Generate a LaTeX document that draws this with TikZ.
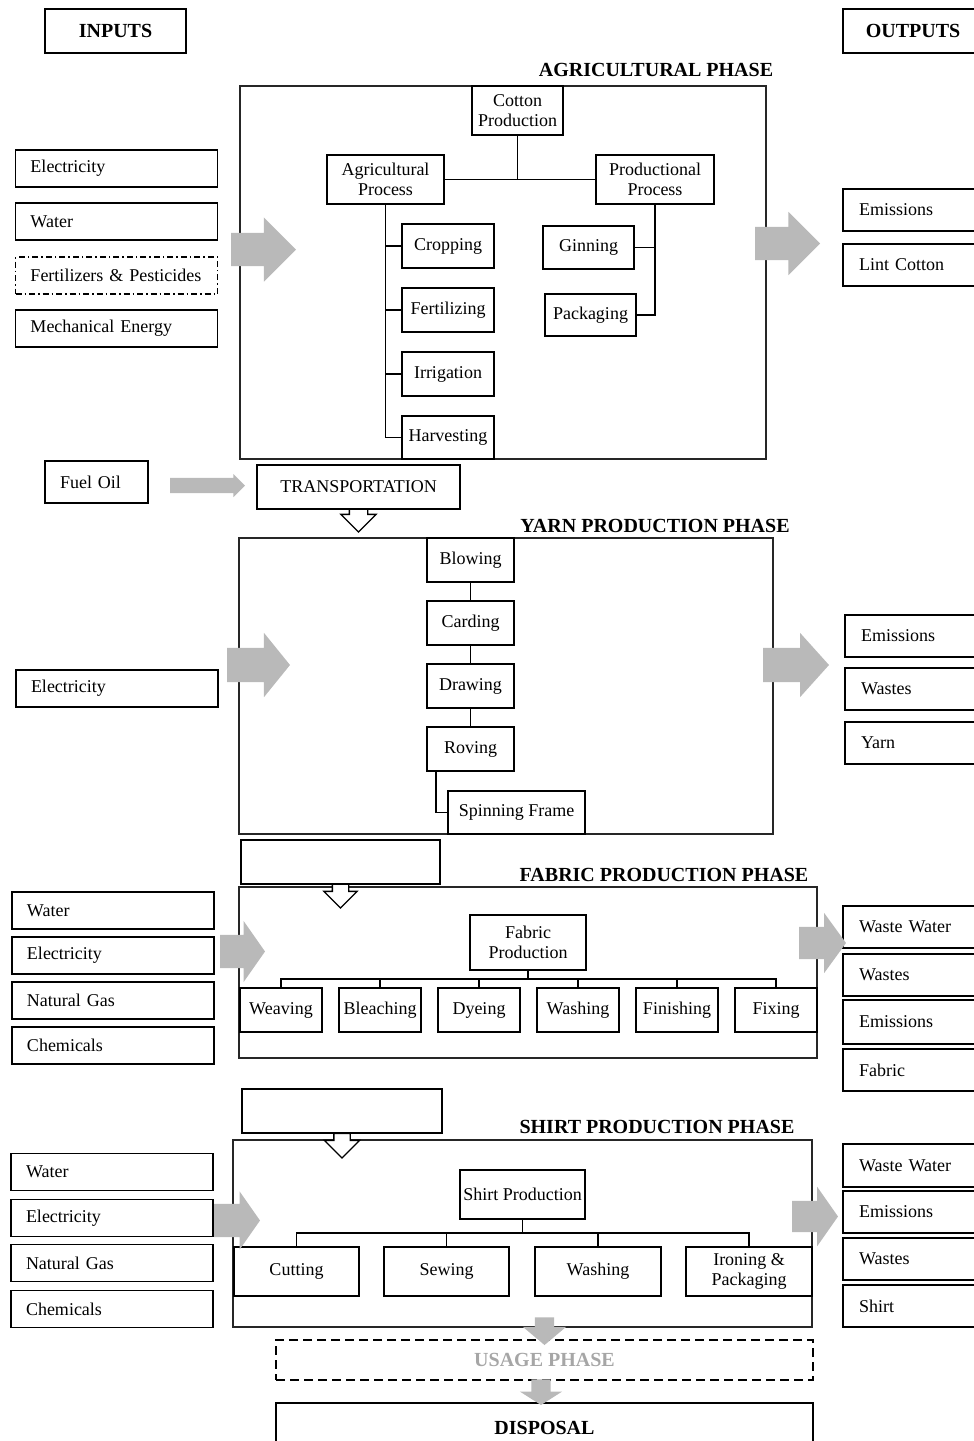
\documentclass[tikz,border=0pt]{standalone}
\usepackage{fontspec}
\setmainfont{Liberation Serif}
\usetikzlibrary{positioning, shapes.arrows}

\begin{document}
\begin{tikzpicture}[x=1pt, y=-1pt,
        every node/.style={font=\fontsize{18}{20}\selectfont, inner sep=0pt, outer sep=0pt},
        head/.style={draw, line width=2.2pt, font=\bfseries\fontsize{20}{22}\selectfont, minimum height=44pt},
        title/.style={font=\bfseries\fontsize{20}{22}\selectfont},
        phase/.style={draw=black!85, line width=1.3pt},
        stepbox/.style={draw, line width=1.6pt, align=center},
        inbox/.style={draw, line width=1.5pt, text width=172pt, inner xsep=15pt, minimum height=37pt, align=left},
        outbox/.style={draw, line width=1.5pt, text width=130pt, inner xsep=16pt, minimum height=42pt, align=left},
        fatarrow/.style={single arrow, fill=gray!55, anchor=tail, inner xsep=0pt},
        hollow/.style={single arrow, draw, line width=1.3pt, fill=white, anchor=tip, shape border rotate=270},
        link/.style={line width=1.6pt}
    ]
    \useasboundingbox (0,0) rectangle (974,1441);
    \clip (0,0) rectangle (974,1441);

    \node[head, minimum width=141pt] (inputs) at (115.5,31) {INPUTS};
    \node[head, minimum width=140pt] (outputs) at (913,31) {OUTPUTS};

    % agricultural phase
    \node[title] (agrititle) at (656,70) {AGRICULTURAL PHASE};
    \node[phase, minimum width=526pt, minimum height=373pt] (agri) at (503,272.5) {};
    \node[stepbox, minimum width=91pt, minimum height=49pt] (cotton) at (517.5,110.5) {Cotton\\Production};
    \node[stepbox, minimum width=117pt, minimum height=49pt] (agriproc) at (385.5,179.5) {Agricultural\\Process};
    \node[stepbox, minimum width=118pt, minimum height=49pt] (prodproc) at (655,179.5) {Productional\\Process};
    \node[stepbox, minimum width=92pt, minimum height=44pt] (crop) at (448,246) {Cropping};
    \node[stepbox, minimum width=92pt, minimum height=44pt, below=20pt of crop] (fert) {Fertilizing};
    \node[stepbox, minimum width=92pt, minimum height=44pt, below=20pt of fert] (irr) {Irrigation};
    \node[stepbox, minimum width=92pt, minimum height=43pt, below=20pt of irr] (harv) {Harvesting};
    \node[stepbox, minimum width=91pt, minimum height=43pt] (gin) at (588.5,247.5) {Ginning};
    \node[stepbox, minimum width=91pt, minimum height=42pt] (pack) at (590.5,315) {Packaging};

    \draw[link] (agriproc) -- (prodproc);
    \draw[link] (cotton) -- (cotton |- agriproc);
    \foreach \s in {crop,fert,irr,harv}
        \draw[link] (agriproc) |- (\s.west);
    \draw[link] (prodproc) |- (gin.east);
    \draw[link] (prodproc) |- (pack.east);

    \node[inbox] (elec1) at (116.5,168.5) {Electricity};
    \node[inbox, below=16pt of elec1] (water1) {Water};
    \node[inbox, below=17pt of water1, dash pattern=on 6pt off 3pt on 1.5pt off 3pt] (chem1) {Fertilizers \& Pesticides};
    \node[inbox, below=16pt of chem1] (mech1) {Mechanical Energy};
    \node[outbox, anchor=west] (emis1) at (843,210) {Emissions};
    \node[outbox, anchor=west, below=13pt of emis1] (lint) {Lint Cotton};

    \node[fatarrow, minimum height=65pt, inner ysep=16.5pt, single arrow head extend=15.5pt] (agriin) at (231,249.5) {};
    \node[fatarrow, minimum height=65pt, inner ysep=16.5pt, single arrow head extend=15pt] (agriout) at (755,243.5) {};

    \node[stepbox, minimum width=103pt, minimum height=42pt, text width=73pt, inner xsep=15pt, align=left] (fuel) at (96.5,482) {Fuel Oil};
    \node[fatarrow, minimum height=75pt, inner ysep=7.5pt, single arrow head extend=4pt] (fuelarrow) at (170,485.5) {};
    \node[hollow, inner sep=8.5pt, single arrow head extend=8.5pt] (transarrow) at (358.5,532) {};
    \node[stepbox, fill=white, minimum width=203pt, minimum height=44pt] (trans) at (358.5,487) {TRANSPORTATION};

    % yarn production phase
    \node[title] (yarntitle) at (655,526) {YARN PRODUCTION PHASE};
    \node[phase, minimum width=534pt, minimum height=296pt] (yarnbox) at (506,686) {};
    \node[stepbox, minimum width=87pt, minimum height=44pt] (blow) at (470.5,560) {Blowing};
    \node[stepbox, minimum width=87pt, minimum height=44pt, below=19pt of blow] (card) {Carding};
    \node[stepbox, minimum width=87pt, minimum height=44pt, below=19pt of card] (drawing) {Drawing};
    \node[stepbox, minimum width=87pt, minimum height=44pt, below=19pt of drawing] (rov) {Roving};
    \node[stepbox, minimum width=137pt, minimum height=43pt] (spin) at (516.5,812.5) {Spinning Frame};

    \draw[link] (blow) -- (card);
    \draw[link] (card) -- (drawing);
    \draw[link] (drawing) -- (rov);
    \draw[link] ([xshift=9pt]rov.south west) |- (spin.west);

    \node[inbox] (elec2) at (117,688.5) {Electricity};
    \node[outbox, anchor=west] (emis2) at (845,636) {Emissions};
    \node[outbox, anchor=west, below=11pt of emis2] (wast2) {Wastes};
    \node[outbox, anchor=west, below=12pt of wast2] (yarn) {Yarn};

    \node[fatarrow, minimum height=63pt, inner ysep=17pt, single arrow head extend=15pt, single arrow tip angle=102] (yarnin) at (227,665) {};
    \node[fatarrow, minimum height=66pt, inner ysep=17pt, single arrow head extend=15pt, single arrow tip angle=96] (yarnout) at (763,665) {};

    % fabric production phase
    \node[title] (fabtitle) at (664,875) {FABRIC PRODUCTION PHASE};
    \node[phase, minimum width=578pt, minimum height=171pt] (fabbox) at (528,972.5) {};
    \node[hollow, inner sep=7.5pt, single arrow head extend=8.5pt] (blankarrow2) at (340.5,908) {};
    \node[stepbox, fill=white, minimum width=199pt, minimum height=44pt] (blank2) at (340.5,862) {};
    \node[stepbox, minimum width=116pt, minimum height=55pt] (fab) at (528,942.5) {Fabric\\Production};
    \node[stepbox, minimum width=82pt, minimum height=44pt] (weav) at (281,1010) {Weaving};
    \node[stepbox, minimum width=82pt, minimum height=44pt, right=17pt of weav] (blea) {Bleaching};
    \node[stepbox, minimum width=82pt, minimum height=44pt, right=17pt of blea] (dye) {Dyeing};
    \node[stepbox, minimum width=82pt, minimum height=44pt, right=17pt of dye] (wash3) {Washing};
    \node[stepbox, minimum width=82pt, minimum height=44pt, right=17pt of wash3] (fini) {Finishing};
    \node[stepbox, minimum width=82pt, minimum height=44pt, right=17pt of fini] (fix) {Fixing};

    \foreach \c in {weav,blea,dye,wash3,fini,fix}
        \draw[link] (fab.south) -- ++(0,9) -| (\c.north);

    \node[inbox] (water3) at (113,910.5) {Water};
    \node[inbox, below=8pt of water3] (elec3) {Electricity};
    \node[inbox, below=8pt of elec3] (gas3) {Natural Gas};
    \node[inbox, below=8pt of gas3] (chem3) {Chemicals};
    \node[outbox, anchor=west] (ww3) at (843,927) {Waste Water};
    \node[outbox, anchor=west, below=6pt of ww3] (wast3) {Wastes};
    \node[outbox, anchor=west, below=4pt of wast3, minimum height=44pt] (emis3) {Emissions};
    \node[outbox, anchor=west, below=5pt of emis3] (fabric) {Fabric};

    \node[fatarrow, minimum height=45pt, inner ysep=16.5pt, single arrow head extend=14pt, single arrow tip angle=110] (fabin) at (220,951.5) {};
    \node[fatarrow, minimum height=47pt, inner ysep=16pt, single arrow head extend=14pt, single arrow tip angle=108] (fabout) at (799,943) {};

    % shirt production phase
    \node[title] (shirttitle) at (657,1127) {SHIRT PRODUCTION PHASE};
    \node[phase, minimum width=579pt, minimum height=187pt] (shirtbox) at (522.5,1233.5) {};
    \node[hollow, inner sep=7.5pt, single arrow head extend=9.5pt] (blankarrow3) at (342,1158) {};
    \node[stepbox, fill=white, minimum width=200pt, minimum height=44pt] (blank3) at (342,1111) {};
    \node[stepbox, minimum width=125pt, minimum height=49pt] (shirtp) at (522.5,1194.5) {Shirt Production};
    \node[stepbox, minimum width=125pt, minimum height=49pt] (cut) at (296.5,1271.5) {Cutting};
    \node[stepbox, minimum width=125pt, minimum height=49pt, right=25pt of cut] (sew) {Sewing};
    \node[stepbox, minimum width=126pt, minimum height=49pt, right=26pt of sew] (wash4) {Washing};
    \node[stepbox, minimum width=126pt, minimum height=49pt, right=25pt of wash4] (iron) {Ironing \&\\Packaging};

    \foreach \c in {cut,sew,wash4,iron}
        \draw[link] (shirtp.south) -- ++(0,14) -| (\c.north);

    \node[inbox] (water4) at (112,1172) {Water};
    \node[inbox, below=9pt of water4] (elec4) {Electricity};
    \node[inbox, below=8pt of elec4] (gas4) {Natural Gas};
    \node[inbox, below=9pt of gas4] (chem4) {Chemicals};
    \node[outbox, anchor=west, minimum height=43pt] (ww4) at (843,1165.5) {Waste Water};
    \node[outbox, anchor=west, below=4pt of ww4] (emis4) {Emissions};
    \node[outbox, anchor=west, below=5pt of emis4] (wast4) {Wastes};
    \node[outbox, anchor=west, below=5pt of wast4] (shirt) {Shirt};

    \node[fatarrow, minimum height=46pt, inner ysep=16.5pt, single arrow head extend=12.5pt, single arrow tip angle=110] (shirtin) at (214,1220.5) {};
    \node[fatarrow, minimum height=46pt, inner ysep=15.5pt, single arrow head extend=14pt, single arrow tip angle=110] (shirtout) at (792,1216.5) {};

    % usage and disposal
    \node[draw, line width=2.2pt, dash pattern=on 9pt off 5pt, minimum width=537pt, minimum height=40pt,
          text=black!35, font=\bfseries\fontsize{20}{22}\selectfont] (usage) at (544.5,1360) {USAGE PHASE};
    \node[draw, line width=1.5pt, minimum width=537pt, minimum height=50pt,
          font=\bfseries\fontsize{20}{22}\selectfont] (disposal) at (544.5,1428) {DISPOSAL};
    \node[fatarrow, anchor=tip, shape border rotate=270, inner sep=9.5pt, single arrow head extend=12pt, single arrow tip angle=100] (usearrow) at ([yshift=-5pt]usage.north) {};
    \node[fatarrow, anchor=tip, shape border rotate=270, inner sep=9.5pt, single arrow head extend=11.5pt, single arrow tip angle=115] (disparrow) at ([xshift=-3.5pt, yshift=-2pt]disposal.north) {};
\end{tikzpicture}
\end{document}
